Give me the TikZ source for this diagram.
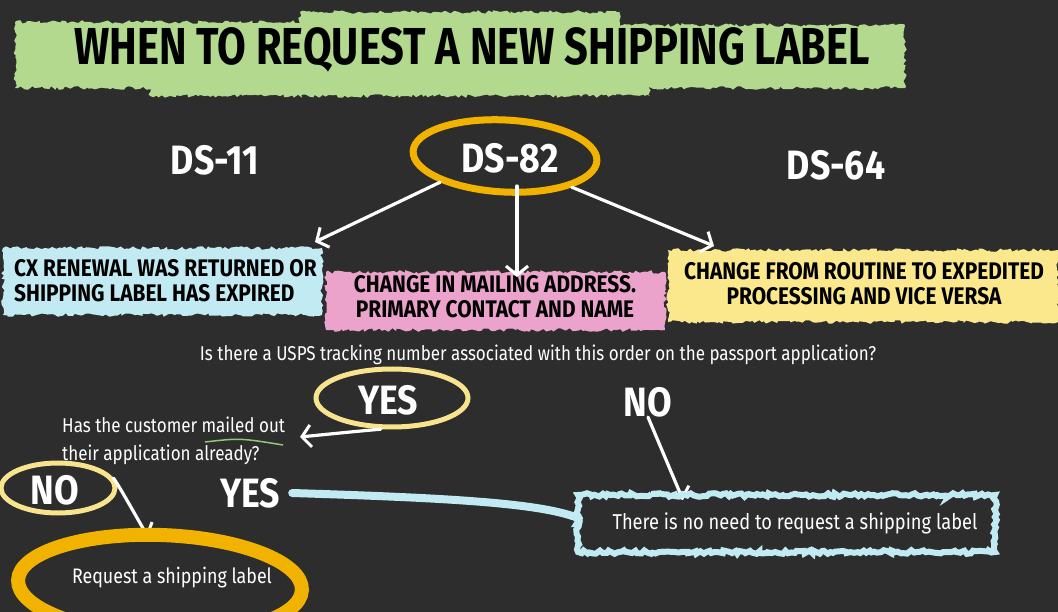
\documentclass[tikz,border=0pt]{standalone}
\usepackage{fontspec}
\setmainfont{Fira Sans}
\newfontfamily\chalk{Fira Sans}[FakeStretch=0.8]
\newfontfamily\capsf{Fira Sans}[FakeStretch=0.87]
\newfontfamily\bigf{Fira Sans}[FakeStretch=0.87]
\newfontfamily\hand{Fira Sans}[FakeStretch=0.85]
\usetikzlibrary{decorations.pathmorphing,arrows.meta,shapes.geometric}
\definecolor{board}{HTML}{2D2D2D}
\definecolor{greenb}{HTML}{B2D98D}
\definecolor{cyanb}{HTML}{C2EAF2}
\definecolor{pinkb}{HTML}{EBA3CB}
\definecolor{yellowb}{HTML}{FBE88C}
\definecolor{orangeb}{HTML}{F2B300}
\definecolor{lyellow}{HTML}{F7E48C}
\definecolor{lineg}{HTML}{8FC97A}
\tikzset{
  brush/.style={decorate,decoration={random steps,segment length=3pt,amplitude=1.8pt}},
  chalkarrow/.style={white, line width=3.2pt, line cap=round,
    -{Straight Barb[length=9pt,width=22pt,line width=3pt]}},
  capslabel/.style={font=\capsf\bfseries\fontsize{24}{24}\selectfont, text=black, inner sep=0pt},
  dslabel/.style={font=\bigf\bfseries\fontsize{41}{41}\selectfont, text=white, inner sep=0pt},
  handtext/.style={font=\hand\fontsize{20}{20}\selectfont, text=white, inner sep=0pt},
  bigword/.style={font=\bigf\bfseries\fontsize{41}{41}\selectfont, text=white, inner sep=0pt},
  ring/.style={ellipse, draw, inner sep=0pt}
}
\begin{document}
\begin{tikzpicture}[x=1pt,y=-1pt]
\pgfmathsetseed{7}
\fill[board] (0,0) rectangle (1058,612);
\useasboundingbox (0,0) rectangle (1058,612);

% title band
\fill[greenb, brush] (15,22) rectangle (470,88);
\fill[greenb, brush] (300,12) rectangle (620,80);
\fill[greenb, brush] (610,25) rectangle (905,88);
\fill[greenb, brush] (150,55) rectangle (650,96);
\node[font=\chalk\bfseries\fontsize{52}{52}\selectfont, text=black, inner sep=0pt] (title) at (472,50) {WHEN TO REQUEST A NEW SHIPPING LABEL};

% DS labels
\node[dslabel] (ds11) at (215,160) {DS-11};
\node[dslabel] (ds82) at (510,158) {DS-82};
\node[dslabel] (ds64) at (836,165) {DS-64};
\node[ring, draw=orangeb, line width=7pt, minimum width=184pt, minimum height=72pt, rotate=-3] (ds82ring) at (505,156) {};

% boxes
\fill[cyanb, brush] (3,248) rectangle (322,315);
\node[capslabel, align=left, anchor=west] (cx) at (14,281) {CX RENEWAL WAS RETURNED OR\\[1pt]SHIPPING LABEL HAS EXPIRED};
\fill[pinkb, brush] (326,272) rectangle (665,330);
\node[capslabel, align=center] (mail) at (495,297) {CHANGE IN MAILING ADDRESS.\\[1pt]PRIMARY CONTACT AND NAME};
\fill[yellowb, brush] (668,250) rectangle (1058,322);
\node[capslabel, align=center] (route) at (864,284) {CHANGE FROM ROUTINE TO EXPEDITED\\[1pt]PROCESSING AND VICE VERSA};

\coordinate (tipcx) at (315,242);
\coordinate (tipmail) at (517,277);
\coordinate (tiproute) at (714,246);
\draw[chalkarrow] (ds82ring.205) -- (tipcx);
\draw[chalkarrow] (517,186) -- (tipmail);
\draw[chalkarrow] (ds82ring.-22) -- (tiproute);

% question
\node[handtext] (q) at (538,355) {Is there a USPS tracking number associated with this order on the passport application?};

% YES ring
\node[bigword] (yes1) at (388,400) {YES};
\node[ring, draw=lyellow, line width=5pt, minimum width=152pt, minimum height=58pt] (yesring) at (392,398) {};

\node[handtext, align=left, anchor=west] (mailed) at (62,441) {Has the customer mailed out\\[8pt]their application already?};
\draw[lineg, line width=1.5pt] (205,442) .. controls (240,438) .. (283,445);
\coordinate (tipmailed) at (300,437);
\draw[chalkarrow] (yesring.250) .. controls (350,432) .. (tipmailed);

% NO ring (left)
\node[bigword] (no1) at (55,490) {NO};
\node[ring, draw=lyellow, line width=5pt, minimum width=114pt, minimum height=50pt] (noring) at (58,488) {};
\coordinate (tipreq) at (148,537);
\draw[chalkarrow] (noring.10) .. controls (120,488) .. (tipreq);

% YES (lower)
\node[bigword] (yes2) at (250,493) {YES};

% NO (right)
\node[bigword] (no2) at (648,402) {NO};
\coordinate (tipnone) at (683,500);
\draw[chalkarrow] (no2.south) -- (tipnone);

% no need box
\node[handtext, font=\hand\fontsize{21.5}{21.5}\selectfont] (none) at (795,523) {There is no need to request a shipping label};
\draw[cyanb, line width=6pt, brush] (578,495) rectangle (995,552);
\draw[cyanb, line width=8pt, line cap=round] (yes2.east) ++(12,0) .. controls (450,498) and (540,503) .. (578,518);

% request ring
\node[ring, draw=orangeb, line width=14pt, minimum width=284pt, minimum height=100pt, rotate=-2] (reqring) at (160,585) {};
\node[handtext, font=\hand\fontsize{21}{21}\selectfont] (req) at (172,578) {Request a shipping label};
\end{tikzpicture}
\end{document}
